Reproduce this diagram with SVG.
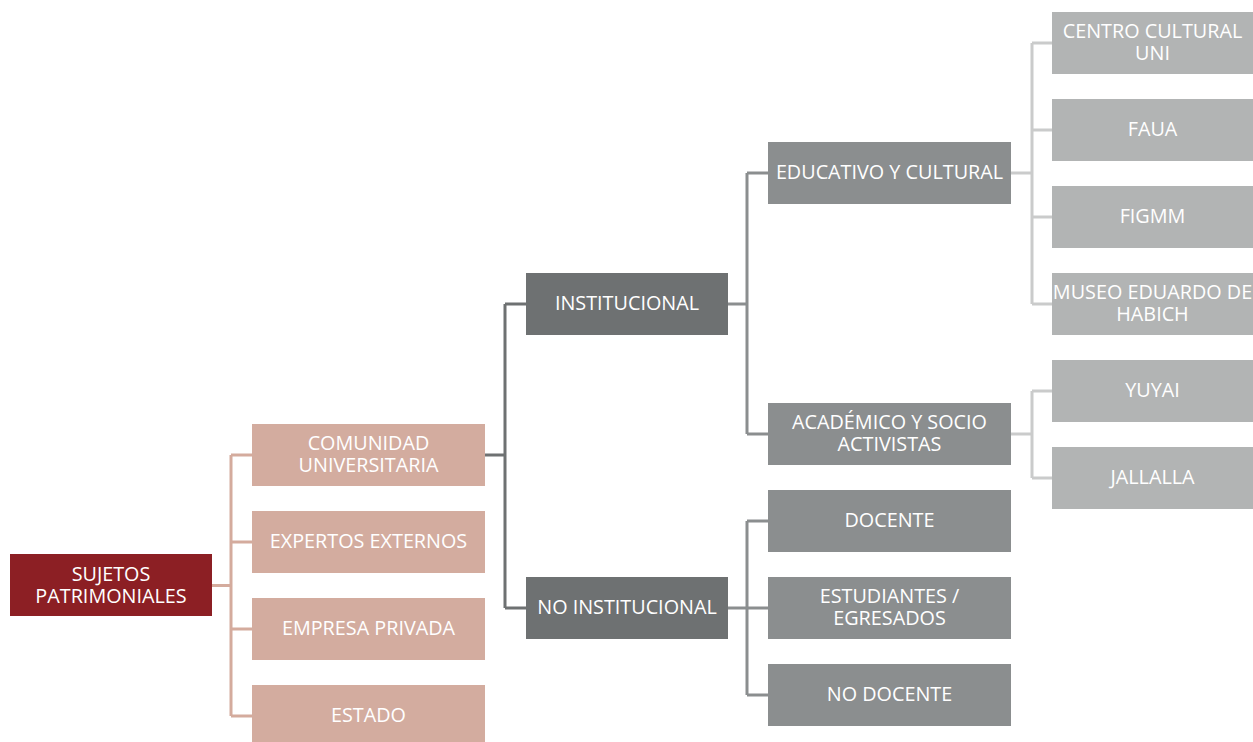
<svg xmlns="http://www.w3.org/2000/svg" width="1253" height="742" viewBox="0 0 1253 742">
<style>
text{font-family:"Open Sans","Liberation Sans",sans-serif;font-size:19.8px;fill:#ffffff;text-anchor:middle}
.r{fill:#8c1f24}
.l1{fill:#d3ac9f}
.l2{fill:#6e7172}
.l3{fill:#8b8e8f}
.l4{fill:#b2b4b4}
.c1{stroke:#d4ab9d;stroke-width:3;fill:none}
.c2{stroke:#6e7172;stroke-width:3;fill:none}
.c3{stroke:#8b8e8f;stroke-width:3;fill:none}
.c4{stroke:#cacbcb;stroke-width:3;fill:none}
</style>
<rect width="1253" height="742" fill="#ffffff"/>
<g id="connectors">
<path class="c1" d="M212 585.5H231M231 455V716M231 455H252M231 542H252M231 629H252M231 716H252"/>
<path class="c2" d="M485 455H505M505 304V608M505 304H526M505 608H526"/>
<path class="c3" d="M728 304H747M747 173V434M747 173H768M747 434H768"/>
<path class="c3" d="M728 608H747M747 521V695M747 521H768M747 608H768M747 695H768"/>
<path class="c4" d="M1011 173H1032M1032 43V304M1032 43H1052M1032 130H1052M1032 217H1052M1032 304H1052"/>
<path class="c4" d="M1011 434H1032M1032 391V478M1032 391H1052M1032 478H1052"/>
</g>
<g id="sujetos"><rect class="r" x="10" y="554" width="202" height="62"/><text x="111" y="580.5">SUJETOS<tspan x="111" dy="22">PATRIMONIALES</tspan></text></g>
<g id="comunidad"><rect class="l1" x="252" y="424" width="233" height="62"/><text x="368.5" y="450">COMUNIDAD<tspan x="368.5" dy="22">UNIVERSITARIA</tspan></text></g>
<g id="expertos"><rect class="l1" x="252" y="511" width="233" height="62"/><text x="368.5" y="548">EXPERTOS EXTERNOS</text></g>
<g id="empresa"><rect class="l1" x="252" y="598" width="233" height="62"/><text x="368.5" y="635">EMPRESA PRIVADA</text></g>
<g id="estado"><rect class="l1" x="252" y="685" width="233" height="62"/><text x="368.5" y="722">ESTADO</text></g>
<g id="institucional"><rect class="l2" x="526" y="273" width="202" height="62"/><text x="627" y="310">INSTITUCIONAL</text></g>
<g id="no-institucional"><rect class="l2" x="526" y="577" width="202" height="62"/><text x="627" y="614">NO INSTITUCIONAL</text></g>
<g id="educativo"><rect class="l3" x="768" y="142" width="243" height="62"/><text x="889.5" y="178.5">EDUCATIVO Y CULTURAL</text></g>
<g id="academico"><rect class="l3" x="768" y="403" width="243" height="62"/><text x="889.5" y="428.5">ACADÉMICO Y SOCIO<tspan x="889.5" dy="22">ACTIVISTAS</tspan></text></g>
<g id="docente"><rect class="l3" x="768" y="490" width="243" height="62"/><text x="889.5" y="527">DOCENTE</text></g>
<g id="estudiantes"><rect class="l3" x="768" y="577" width="243" height="62"/><text x="889.5" y="602.5">ESTUDIANTES /<tspan x="889.5" dy="22">EGRESADOS</tspan></text></g>
<g id="no-docente"><rect class="l3" x="768" y="664" width="243" height="62"/><text x="889.5" y="701">NO DOCENTE</text></g>
<g id="centro"><rect class="l4" x="1052" y="12" width="201" height="62"/><text x="1152.5" y="37.5">CENTRO CULTURAL<tspan x="1152.5" dy="22">UNI</tspan></text></g>
<g id="faua"><rect class="l4" x="1052" y="99" width="201" height="62"/><text x="1152.5" y="136">FAUA</text></g>
<g id="figmm"><rect class="l4" x="1052" y="186" width="201" height="62"/><text x="1152.5" y="223">FIGMM</text></g>
<g id="museo"><rect class="l4" x="1052" y="273" width="201" height="62"/><text x="1152.5" y="298.5">MUSEO EDUARDO DE<tspan x="1152.5" dy="22">HABICH</tspan></text></g>
<g id="yuyai"><rect class="l4" x="1052" y="360" width="201" height="62"/><text x="1152.5" y="397">YUYAI</text></g>
<g id="jallalla"><rect class="l4" x="1052" y="447" width="201" height="62"/><text x="1152.5" y="484">JALLALLA</text></g>
</svg>
